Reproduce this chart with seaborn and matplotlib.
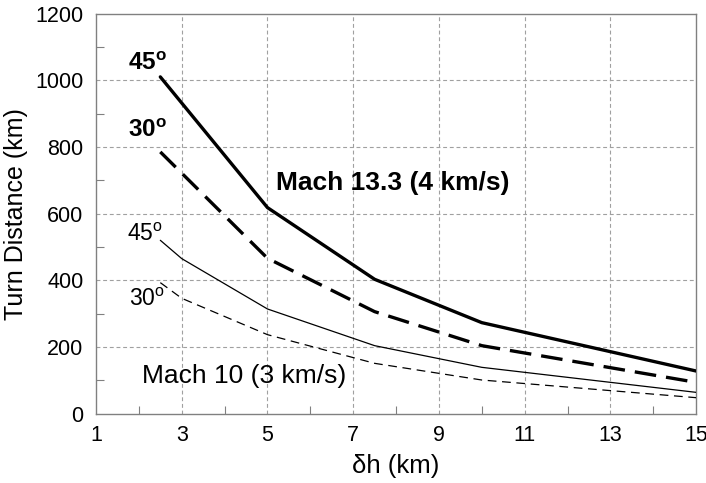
import numpy as np
import pandas as pd
import matplotlib
matplotlib.use("Agg")
import matplotlib.pyplot as plt
import seaborn as sns

# Turn distance versus altitude change for two speeds and two bank angles
dh_fast = [2.5, 5, 7.5, 10, 15]
fast_45 = [1010, 618, 403, 273, 128]
fast_30 = [785, 466, 306, 204, 94]

dh_slow = [2.5, 3, 5, 7.5, 10, 15]
slow_45 = [520, 465, 314, 204, 139, 64]
slow_30 = [393, 346, 237, 151, 101, 48]

x_ticks = [1, 3, 5, 7, 9, 11, 13, 15]
y_ticks = [0, 200, 400, 600, 800, 1000, 1200]

series_names = ["M13.3 45", "M13.3 30", "M10 45", "M10 30"]

frames = []
for name, xs, ys in zip(series_names,
                        [dh_fast, dh_fast, dh_slow, dh_slow],
                        [fast_45, fast_30, slow_45, slow_30]):
    frames.append(pd.DataFrame({"dh": xs, "dist": ys, "series": name}))
df = pd.concat(frames, ignore_index=True)

sns.set_theme(style="white")
plt.rcParams["font.family"] = ["Liberation Sans", "DejaVu Sans"]
plt.rcParams["mathtext.fontset"] = "custom"
plt.rcParams["mathtext.rm"] = "Liberation Sans"
plt.rcParams["mathtext.bf"] = "Liberation Sans:bold"
for key in ["text.color", "axes.labelcolor", "xtick.labelcolor", "ytick.labelcolor"]:
    plt.rcParams[key] = "black"

fig = plt.figure(figsize=(7.06, 4.83), dpi=100)
ax = fig.add_axes([0.136, 0.1435, 0.850, 0.8285])

grid_kw = dict(color="#a0a0a0", lw=0.8, dashes=(3.5, 2.5), zorder=0)
for gx in x_ticks[1:-1]:
    ax.axvline(gx, **grid_kw)
for gy in y_ticks[1:-1]:
    ax.axhline(gy, **grid_kw)

sns.lineplot(
    data=df, x="dh", y="dist", hue="series", style="series", size="series",
    palette={n: "black" for n in series_names},
    sizes={"M13.3 45": 2.4, "M13.3 30": 2.4, "M10 45": 0.9, "M10 30": 0.9},
    dashes={"M13.3 45": "", "M13.3 30": (6.5, 3.0),
            "M10 45": "", "M10 30": (7.0, 4.5)},
    estimator=None, sort=False, legend=False, ax=ax, zorder=3,
)

ax.set_xlim(1, 15)
ax.set_ylim(0, 1200)
ax.set_xticks(x_ticks)
ax.set_yticks(y_ticks)
ax.set_xticks(np.arange(2, 15, 2), minor=True)
ax.set_yticks(np.arange(100, 1200, 200), minor=True)
ax.tick_params(axis="both", which="major", length=0, labelsize=15.5,
               labelcolor="black")
ax.tick_params(axis="y", which="major", pad=9)
ax.tick_params(axis="x", which="major", pad=8)
ax.tick_params(axis="both", which="minor", direction="in", length=6,
               width=0.8, color="#808080")
ax.tick_params(axis="x", which="minor", bottom=True)
ax.tick_params(axis="y", which="minor", left=True)

for sp in ax.spines.values():
    sp.set_color("#808080")
    sp.set_linewidth(1.0)

ax.set_xlabel("δh (km)", fontsize=18.5, labelpad=6)
ax.set_ylabel("Turn Distance (km)", fontsize=18, labelpad=5)

# Curve annotations
ax.text(1.75, 1031, r"$\mathbf{45^{o}}$", fontsize=17.5, ha="left", va="baseline")
ax.text(1.75, 829, r"$\mathbf{30^{o}}$", fontsize=17.5, ha="left", va="baseline")
ax.text(1.72, 519, r"$\mathrm{45^{o}}$", fontsize=16.5, ha="left", va="baseline")
ax.text(1.77, 324, r"$\mathrm{30^{o}}$", fontsize=16.5, ha="left", va="baseline")
ax.text(5.2, 671, "Mach 13.3 (4 km/s)", fontsize=19, fontweight="bold",
        ha="left", va="baseline")
ax.text(2.08, 91, "Mach 10 (3 km/s)", fontsize=19, ha="left", va="baseline")

fig.savefig("out.png", dpi=100)
